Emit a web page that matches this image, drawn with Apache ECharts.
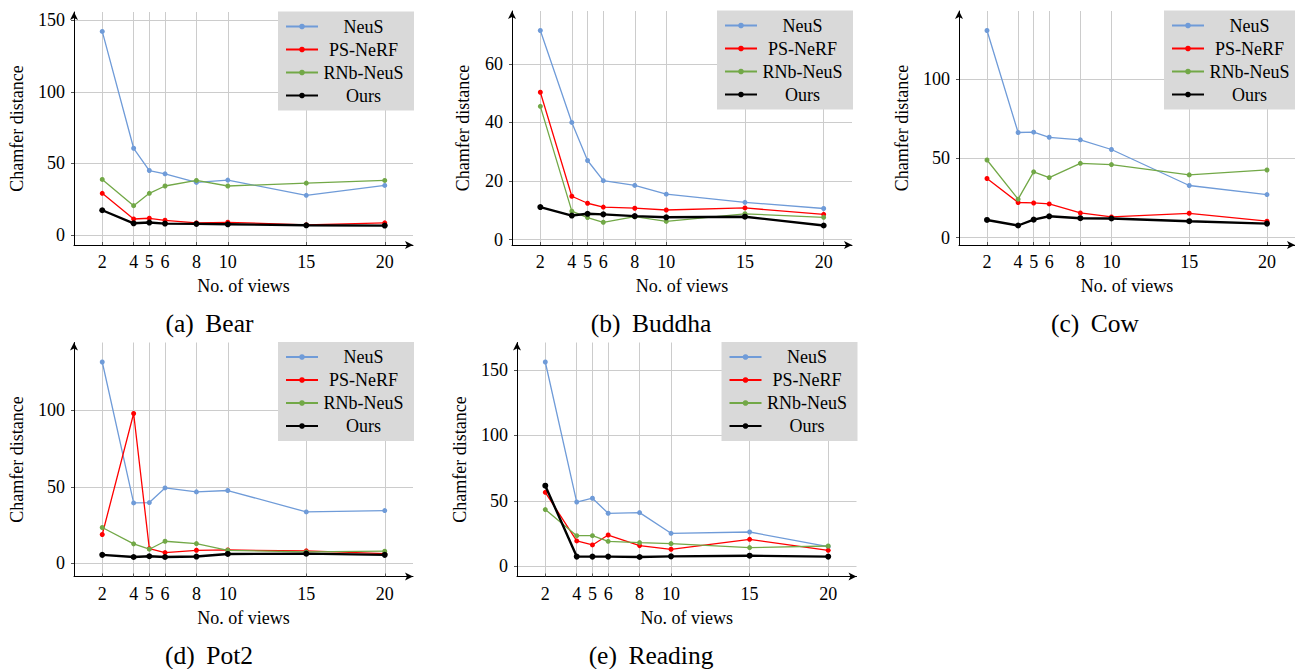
<!DOCTYPE html>
<html>
<head>
<meta charset="utf-8">
<script src="https://cdn.jsdelivr.net/npm/echarts@6/dist/echarts.min.js"></script>
<style>
html,body{margin:0;padding:0;background:#fff;}
#chart{width:1295px;height:669px;}
</style>
</head>
<body>
<div id="chart"></div>
<script>
// ---- data ----
const views = [2, 4, 5, 6, 8, 10, 15, 20];
const methods = ['NeuS', 'PS-NeRF', 'RNb-NeuS', 'Ours'];

const bearNeuS    = [142.1, 60.6, 45.1, 42.8, 36.8, 38.4, 27.8, 34.7];
const bearPSNeRF  = [29.2, 11.3, 11.8, 10.4, 8.6, 9.0, 7.2, 8.6];
const bearRNb     = [38.9, 20.6, 29.2, 34.3, 38.2, 34.3, 36.3, 38.2];
const bearOurs    = [17.4, 8.3, 8.8, 8.1, 7.9, 7.6, 6.9, 6.7];

const buddhaNeuS   = [71.4, 40.0, 27.0, 20.1, 18.5, 15.5, 12.7, 10.6];
const buddhaPSNeRF = [50.3, 14.8, 12.4, 11.1, 10.7, 10.1, 10.8, 8.6];
const buddhaRNb    = [45.5, 9.7, 7.5, 5.9, 7.8, 6.2, 8.8, 7.6];
const buddhaOurs   = [11.1, 8.2, 8.8, 8.6, 8.0, 7.6, 7.8, 4.8];

const cowNeuS   = [130.5, 66.2, 66.4, 63.2, 61.6, 55.5, 32.8, 27.1];
const cowPSNeRF = [37.2, 22.1, 21.8, 21.2, 15.5, 13.0, 15.3, 10.3];
const cowRNb    = [48.9, 24.2, 41.4, 37.8, 46.8, 46.0, 39.5, 42.6];
const cowOurs   = [11.1, 7.6, 11.3, 13.4, 12.2, 12.0, 10.3, 8.8];

const pot2NeuS   = [131.7, 39.5, 39.7, 49.3, 46.7, 47.6, 33.6, 34.5];
const pot2PSNeRF = [18.8, 98.0, 9.6, 7.0, 8.5, 8.7, 8.1, 6.3];
const pot2RNb    = [23.4, 12.7, 9.2, 14.4, 12.9, 8.5, 7.4, 7.9];
const pot2Ours   = [5.5, 4.1, 4.6, 4.1, 4.4, 6.1, 6.3, 5.5];

const readingNeuS   = [156.1, 49.1, 52.0, 40.5, 41.0, 25.2, 26.2, 15.0];
const readingPSNeRF = [56.5, 19.4, 16.3, 23.9, 15.8, 13.0, 20.6, 12.2];
const readingRNb    = [43.3, 23.4, 23.4, 19.1, 18.1, 17.3, 14.3, 15.5];
const readingOurs   = [61.6, 7.4, 7.4, 7.4, 7.1, 7.6, 8.1, 7.4];

const bearTicks    = [0, 50, 100, 150];
const buddhaTicks  = [0, 20, 40, 60];
const cowTicks     = [0, 50, 100];
const pot2Ticks    = [0, 50, 100];
const readingTicks = [0, 50, 100, 150];

const captions = ['(a)\u2009 Bear', '(b)\u2009 Buddha', '(c)\u2009 Cow', '(d)\u2009 Pot2', '(e)\u2009 Reading'];
const xLabel = 'No. of views';
const yLabel = 'Chamfer distance';

// ---- layout / style ----
const FONT = 'Liberation Serif';
const colors = ['#6f9bd8', '#ff0000', '#72a847', '#000000'];
const panels = [
  {vals: [bearNeuS, bearPSNeRF, bearRNb, bearOurs], ticks: bearTicks,
   grid: {left: 74, top: 12, width: 339, height: 233}, nameGap: 48},
  {vals: [buddhaNeuS, buddhaPSNeRF, buddhaRNb, buddhaOurs], ticks: buddhaTicks,
   grid: {left: 512, top: 11, width: 340, height: 234}, nameGap: 40},
  {vals: [cowNeuS, cowPSNeRF, cowRNb, cowOurs], ticks: cowTicks,
   grid: {left: 959, top: 11, width: 340, height: 234}, nameGap: 48},
  {vals: [pot2NeuS, pot2PSNeRF, pot2RNb, pot2Ours], ticks: pot2Ticks,
   grid: {left: 74, top: 342.5, width: 339, height: 234}, nameGap: 48},
  {vals: [readingNeuS, readingPSNeRF, readingRNb, readingOurs], ticks: readingTicks,
   grid: {left: 517, top: 342.5, width: 339.5, height: 234}, nameGap: 48}
];
const captionPos = [[209.5, 323], [651, 323], [1095, 323], [209, 655], [651, 655]];

const grids = [], xAxes = [], yAxes = [], series = [], legends = [], graphics = [];

panels.forEach((p, i) => {
  grids.push(Object.assign({containLabel: false}, p.grid));
  const all = [].concat(...p.vals);
  const dmin = Math.min(...all), dmax = Math.max(...all);
  const pad = 0.1 * (dmax - dmin);
  const axisLine = {show: true, onZero: false, symbol: ['none', 'arrow'], symbolSize: [6, 8],
    lineStyle: {color: '#000', width: 1}};
  xAxes.push({
    type: 'value', gridIndex: i, min: 0.2, max: 21.8,
    axisLine: axisLine,
    axisTick: {show: true, inside: true, length: 3, customValues: views, lineStyle: {color: '#555'}},
    axisLabel: {customValues: views, fontSize: 18, fontFamily: FONT, color: '#000', margin: 8},
    splitLine: {show: true, lineStyle: {color: '#cccccc', width: 1}},
    name: xLabel, nameLocation: 'middle', nameGap: 32,
    nameTextStyle: {fontSize: 18, fontFamily: FONT, color: '#000'}
  });
  yAxes.push({
    type: 'value', gridIndex: i, min: dmin - pad, max: dmax + pad,
    axisLine: axisLine,
    axisTick: {show: true, inside: false, length: 3, customValues: p.ticks, lineStyle: {color: '#555'}},
    axisLabel: {customValues: p.ticks, fontSize: 18, fontFamily: FONT, color: '#000', margin: 9},
    splitLine: {show: true, lineStyle: {color: '#cccccc', width: 1}},
    name: yLabel, nameLocation: 'middle', nameGap: p.nameGap,
    nameTextStyle: {fontSize: 18, fontFamily: FONT, color: '#000'}
  });
  methods.forEach((m, k) => {
    const isOurs = k === 3;
    series.push({
      type: 'line', name: m, xAxisIndex: i, yAxisIndex: i,
      data: views.map((v, j) => [v, p.vals[k][j]]),
      symbol: 'circle', symbolSize: isOurs ? 6 : 5,
      lineStyle: {color: colors[k], width: isOurs ? 2.4 : 1.3},
      itemStyle: {color: colors[k]},
      z: 2 + k, animation: false
    });
  });
  const gRight = p.grid.left + p.grid.width;
  legends.push({
    data: methods, orient: 'vertical', left: gRight - 135, top: p.grid.top - 0.5,
    backgroundColor: '#d9d9d9', padding: [6, 10, 6, 7], borderRadius: 0,
    itemWidth: 32, itemHeight: 7, itemGap: 5, selectedMode: false,
    formatter: '{t|{name}}',
    textStyle: {fontSize: 18, fontFamily: FONT, color: '#000',
      rich: {t: {width: 81, align: 'center', fontSize: 18, lineHeight: 18, fontFamily: FONT}}}
  });
  graphics.push({
    type: 'text', x: captionPos[i][0], y: captionPos[i][1],
    style: {text: captions[i], fill: '#000', font: '25.5px "' + FONT + '"',
      textAlign: 'center', textVerticalAlign: 'middle'}
  });
});

const chart = echarts.init(document.getElementById('chart'), null, {renderer: 'svg'});
chart.setOption({
  animation: false,
  backgroundColor: '#fff',
  textStyle: {fontFamily: FONT},
  grid: grids, xAxis: xAxes, yAxis: yAxes, series: series,
  legend: legends, graphic: graphics
});
</script>
</body>
</html>
